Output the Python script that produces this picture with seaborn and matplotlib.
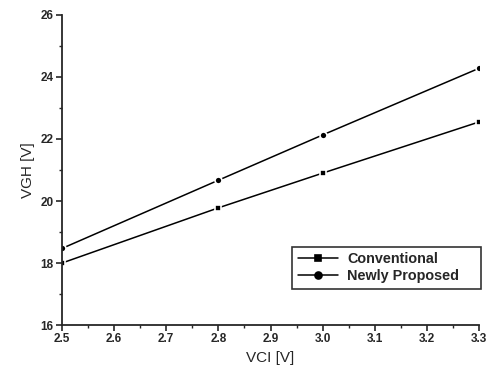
import pandas as pd
import seaborn as sns
import matplotlib.pyplot as plt
from matplotlib.ticker import MultipleLocator

# data
vci = [2.5, 2.8, 3.0, 3.3]
conventional = [18.0, 19.78, 20.9, 22.55]
newly_proposed = [18.47, 20.67, 22.13, 24.28]

df = pd.DataFrame({
    "VCI": vci * 2,
    "VGH": conventional + newly_proposed,
    "Method": ["Conventional"] * len(vci) + ["Newly Proposed"] * len(vci),
})

sns.set_style("ticks")
plt.rcParams["font.family"] = ["Liberation Sans", "DejaVu Sans"]

fig = plt.figure(figsize=(4.95, 3.72), dpi=100)
ax = fig.add_axes([0.125, 0.126, 0.843, 0.834])

sns.lineplot(
    data=df, x="VCI", y="VGH", hue="Method", style="Method",
    markers=["s", "o"], dashes=False,
    palette=["black", "black"], linewidth=1.1,
    markersize=5, markeredgecolor="white", markeredgewidth=1.2,
    ax=ax,
)

ax.set_xlim(2.5, 3.3)
ax.set_ylim(16, 26)
ax.xaxis.set_major_locator(MultipleLocator(0.1))
ax.xaxis.set_minor_locator(MultipleLocator(0.05))
ax.yaxis.set_major_locator(MultipleLocator(2))
ax.yaxis.set_minor_locator(MultipleLocator(1))
ax.tick_params(which="major", direction="out", length=4, width=1.2, labelsize=8.5, pad=2)
ax.tick_params(which="minor", direction="out", length=2.5, width=1)
for lbl in ax.get_xticklabels() + ax.get_yticklabels():
    lbl.set_fontweight("bold")

sns.despine(ax=ax)
ax.spines["left"].set_linewidth(1.3)
ax.spines["bottom"].set_linewidth(1.3)

ax.set_xlabel("VCI [V]", fontsize=11)
ax.set_ylabel("VGH [V]", fontsize=11)

# legend box stretched to the width seen in the reference
leg = ax.legend(
    title=None, loc="lower left", bbox_to_anchor=(0.552, 0.116, 0.453, 0.135),
    mode="expand", borderaxespad=0,
    prop={"size": 10.4, "weight": "bold"}, frameon=True, fancybox=False, edgecolor="black",
    handlelength=2.8, handletextpad=0.6, borderpad=0.4, labelspacing=0.2,
)
leg.get_frame().set_linewidth(1.2)
for h in leg.legend_handles:
    h.set_markeredgecolor("black")

fig.savefig("out.png", dpi=100)
